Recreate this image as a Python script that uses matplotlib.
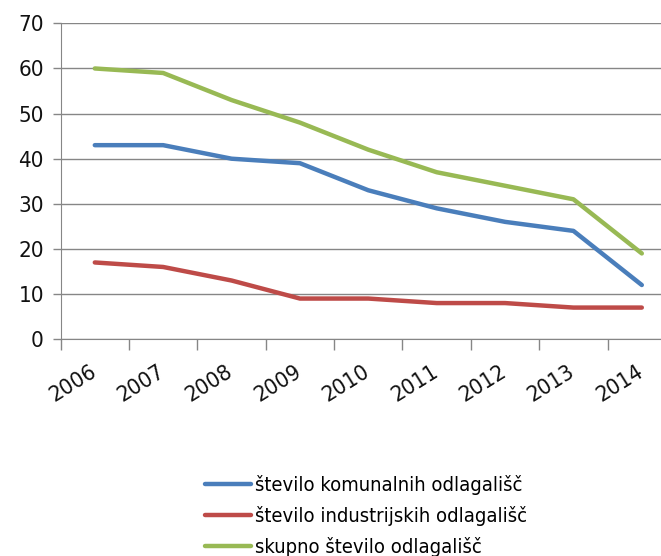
import matplotlib.pyplot as plt
import matplotlib.transforms as mtrans

# Data
years = ["2006", "2007", "2008", "2009", "2010", "2011", "2012", "2013", "2014"]
komunalna = [43, 43, 40, 39, 33, 29, 26, 24, 12]
industrijska = [17, 16, 13, 9, 9, 8, 8, 7, 7]
skupno = [60, 59, 53, 48, 42, 37, 34, 31, 19]
labels = ["število komunalnih odlagališč",
          "število industrijskih odlagališč",
          "skupno število odlagališč"]

plt.rcParams['font.family'] = ['DejaVu Sans']
plt.rcParams['font.stretch'] = 'condensed'

fig = plt.figure(figsize=(6.61, 5.56), dpi=100)
ax = fig.add_axes([0.0917, 0.390, 0.931, 0.568])

x = list(range(len(years)))
grey = "#868686"
l1, = ax.plot(x, komunalna, color="#4A7EBB", lw=3.2, solid_capstyle="round")
l2, = ax.plot(x, industrijska, color="#BE4B48", lw=3.2, solid_capstyle="round")
l3, = ax.plot(x, skupno, color="#98B954", lw=3.2, solid_capstyle="round")

ax.set_xlim(-0.5, len(years) - 0.5)
ax.set_ylim(0, 70)
ax.set_yticks(range(0, 71, 10))
ax.yaxis.grid(True, color=grey, lw=1)
ax.set_axisbelow(True)

# category ticks between labels
ax.set_xticks([i - 0.5 for i in range(len(years))])
ax.set_xticklabels([])
ax.set_xticks(x, minor=True)
ax.set_xticklabels(years, minor=True, rotation=32, ha="right", va="top",
                   fontsize=16, color="#111111")
ax.tick_params(axis="x", which="minor", length=0, pad=16)
ax.tick_params(axis="x", which="major", length=8, color=grey, width=1)
ax.tick_params(axis="y", length=6, color=grey, width=1, labelsize=16,
               labelcolor="#111111", pad=6)
shift = mtrans.ScaledTranslation(0.05, 0, fig.dpi_scale_trans)
for lab in ax.get_xticklabels(minor=True):
    lab.set_transform(lab.get_transform() + shift)

for s in ["top", "right"]:
    ax.spines[s].set_visible(False)
for s in ["left", "bottom"]:
    ax.spines[s].set_color(grey)

fig.legend([l1, l2, l3], labels, loc="upper left",
           bbox_to_anchor=(0.31, 0.146), frameon=False, fontsize=14.5,
           handlelength=2.3, handletextpad=0.2, labelspacing=0.55,
           borderaxespad=0, borderpad=0)

fig.savefig("out.png", dpi=100)
